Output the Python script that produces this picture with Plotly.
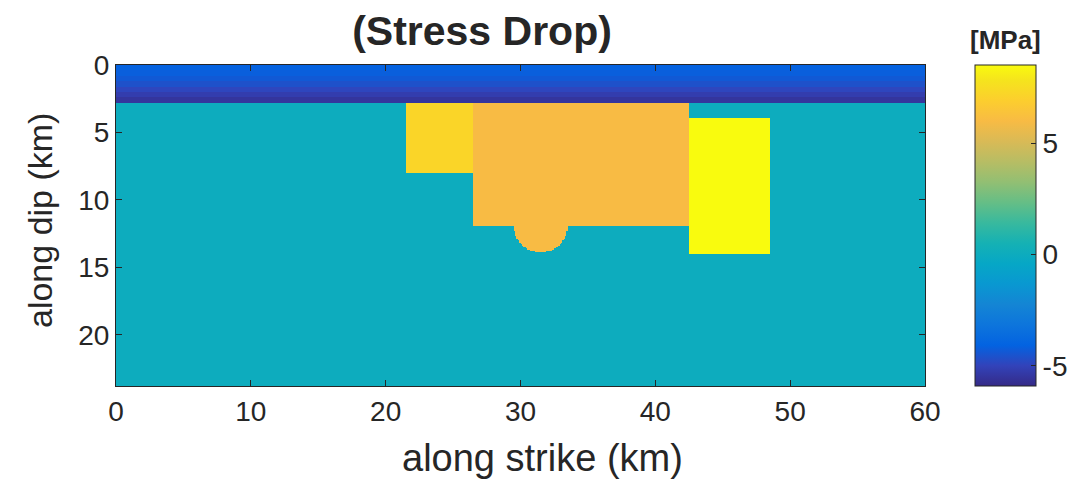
import numpy as np
import plotly.graph_objects as go

# Fault plane extent (km) and grid spacing
strike_length = 60.0
dip_width = 23.8
cell = 0.1

# Stress drop (MPa)
background_drop = 0.0

# Shallow layer: stress drop in 0.4 km bands from the surface downwards
shallow_band = 0.4
shallow_layer_bands = [-4.1, -4.2, -4.35, -4.6, -4.9, -5.2, -5.5]

# Rectangular asperities
asperity_names = ["west", "central", "east"]
asperity_strike_min = [21.5, 26.5, 42.5]
asperity_strike_max = [26.5, 42.5, 48.5]
asperity_dip_min = [2.8, 2.8, 3.9]
asperity_dip_max = [8.0, 11.9, 14.0]
asperity_drop = [7.2, 6.0, 8.5]

# Circular patch below the central asperity
circle_strike = 31.5
circle_dip = 11.9
circle_radius = 2.0
circle_drop = 6.0

# Colour limits and tick labels
zmin, zmax = -5.9, 8.5
cbar_ticks = [-5, 0, 5]
cbar_labels = ["-5", "0", "5"]
x_ticks = [0, 10, 20, 30, 40, 50, 60]
y_ticks = [0, 5, 10, 15, 20]

# MATLAB parula colormap
parula_rgb = [
    (0.2081, 0.1663, 0.5292), (0.1959, 0.2645, 0.7279), (0.0117, 0.3875, 0.8820),
    (0.0498, 0.4586, 0.8641), (0.0793, 0.5200, 0.8312), (0.0343, 0.5966, 0.8199),
    (0.0228, 0.6535, 0.7768), (0.0843, 0.6928, 0.7062), (0.2178, 0.7250, 0.6193),
    (0.3953, 0.7459, 0.5244), (0.5709, 0.7485, 0.4494), (0.7184, 0.7411, 0.3905),
    (0.8507, 0.7299, 0.3360), (0.9739, 0.7314, 0.2666), (0.9880, 0.8066, 0.1794),
    (0.9589, 0.8949, 0.1132), (0.9763, 0.9831, 0.0538),
]
parula_pos = [0, 4, 8, 12, 16, 20, 24, 28, 32, 36, 40, 44, 48, 52, 56, 60, 63]
parula = [
    [p / 63, "rgb({:d},{:d},{:d})".format(*(int(round(c * 255)) for c in rgb))]
    for p, rgb in zip(parula_pos, parula_rgb)
]

# Build the stress-drop map on a regular grid
xc = np.arange(cell / 2, strike_length, cell)
yc = np.arange(cell / 2, dip_width, cell)
X, Y = np.meshgrid(xc, yc)
Z = np.full(X.shape, background_drop)
for i, v in enumerate(shallow_layer_bands):
    Z[(Y >= i * shallow_band) & (Y < (i + 1) * shallow_band)] = v
for x0, x1, y0, y1, v in zip(asperity_strike_min, asperity_strike_max,
                             asperity_dip_min, asperity_dip_max, asperity_drop):
    Z[(X >= x0) & (X < x1) & (Y >= y0) & (Y < y1)] = v
Z[(X - circle_strike) ** 2 + (Y - circle_dip) ** 2 <= circle_radius ** 2] = circle_drop
Z = np.round(Z, 2)

font_family = "Liberation Sans, Arial, sans-serif"
ink = "#262626"

# Plot area in pixels
W, H = 1078, 481
L, R, T, B = 116, 153, 65, 95
pw, ph = W - L - R, H - T - B

fig = go.Figure(
    go.Heatmap(
        z=Z, x0=cell / 2, dx=cell, y0=cell / 2, dy=cell,
        colorscale=parula, zmin=zmin, zmax=zmax, zsmooth=False,
        colorbar=dict(
            thickness=61, thicknessmode="pixels",
            len=1, lenmode="fraction", y=0.5, yanchor="middle",
            x=(975 - L) / pw, xanchor="left", xpad=0, ypad=0,
            outlinewidth=1, outlinecolor=ink,
            tickvals=cbar_ticks, ticktext=cbar_labels,
            ticks="inside", ticklen=5, tickcolor=ink,
            tickfont=dict(family=font_family, size=28, color=ink),
        ),
    )
)

axis_common = dict(
    showgrid=False, zeroline=False, showline=True, linecolor=ink, linewidth=1,
    mirror="allticks", ticks="inside", ticklen=6, tickcolor=ink,
    tickfont=dict(family=font_family, size=28, color=ink),
)
fig.update_xaxes(range=[0, strike_length], tickvals=x_ticks, **axis_common)
fig.update_yaxes(range=[dip_width, 0], tickvals=y_ticks, **axis_common)

fig.update_layout(
    width=W, height=H, autosize=False,
    margin=dict(l=L, r=R, t=T, b=B, autoexpand=False),
    paper_bgcolor="white", plot_bgcolor="white",
    font=dict(family=font_family, color=ink),
    title=dict(
        text="<b>(Stress Drop)</b>", xref="container", yref="container",
        x=482 / W, xanchor="center", y=1 - 31 / H, yanchor="middle",
        font=dict(family=font_family, size=41, color=ink),
    ),
    annotations=[
        dict(text="along strike (km)", xref="paper", yref="paper",
             x=(542 - L) / pw, y=-(458 - (H - B)) / ph, xanchor="center", yanchor="middle",
             showarrow=False, font=dict(family=font_family, size=38, color=ink)),
        dict(text="along dip (km)", xref="paper", yref="paper", textangle=-90,
             x=-(L - 40) / pw, y=(H - B - 221) / ph, xanchor="center", yanchor="middle",
             showarrow=False, font=dict(family=font_family, size=34, color=ink)),
        dict(text="<b>[MPa]</b>", xref="paper", yref="paper",
             x=(1006 - L) / pw, y=1 + (T - 40) / ph, xanchor="center", yanchor="middle",
             showarrow=False, font=dict(family=font_family, size=26, color=ink)),
    ],
)

fig.write_html("out.html")
